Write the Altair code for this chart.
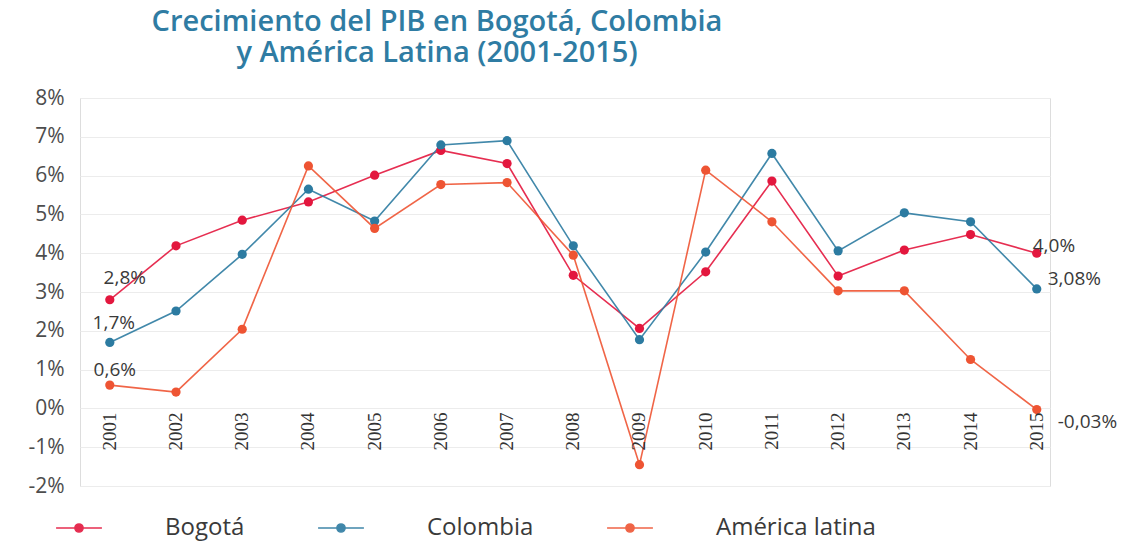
import altair as alt
import pandas as pd

# GDP growth (%) by year
years = list(range(2001, 2016))
bogota = [2.8, 4.19, 4.85, 5.32, 6.01, 6.65, 6.31, 3.43, 2.06, 3.52, 5.86, 3.41, 4.08, 4.48, 4.0]
colombia = [1.7, 2.51, 3.97, 5.65, 4.83, 6.79, 6.9, 4.19, 1.77, 4.03, 6.57, 4.06, 5.04, 4.81, 3.08]
america_latina = [0.6, 0.42, 2.04, 6.25, 4.64, 5.77, 5.82, 3.95, -1.45, 6.14, 4.81, 3.03, 3.03, 1.26, -0.03]

series_names = ["Bogotá", "Colombia", "América latina"]
series_colors = ["#e3173e", "#2c7ba1", "#ee5433"]

# end-point value labels
label_series = ["Bogotá", "Colombia", "América latina", "Bogotá", "Colombia", "América latina"]
label_years = [2001, 2001, 2001, 2015, 2015, 2015]
label_texts = ["2,8%", "1,7%", "0,6%", "4,0%", "3,08%", "-0,03%"]

y_ticks = list(range(-2, 9))

series_values = {"Bogotá": bogota, "Colombia": colombia, "América latina": america_latina}

rows = []
for name in series_names:
    for yr, v in zip(years, series_values[name]):
        rows.append({"serie": name, "year": yr, "value": v})
df = pd.DataFrame(rows)

year_df = pd.DataFrame({"year": years, "year_label": [str(y) for y in years]})

label_df = pd.DataFrame({
    "serie": label_series,
    "year": label_years,
    "text": label_texts,
    "value": [series_values[s][years.index(y)] for s, y in zip(label_series, label_years)],
})

FONT = "Open Sans"

x_scale = alt.Scale(domain=[2000.55, 2015.2], nice=False, zero=False)
y_scale = alt.Scale(domain=[-2, 8], nice=False, zero=False)
y_axis = alt.Axis(
    values=y_ticks,
    labelExpr="datum.value + '%'",
    labelOverlap=False,
    labelBound=False,
    grid=True,
    gridColor="#ececec",
    gridWidth=1,
    domain=False,
    ticks=False,
    labelPadding=16,
    labelFont=FONT,
    labelFontSize=21,
    labelColor="#4d4d4d",
    title=None,
)

x_enc = alt.X("year:Q", scale=x_scale, axis=None)
y_enc = alt.Y("value:Q", scale=y_scale, axis=y_axis)

legend_symbol = (
    "M-1,0L1,0"
    "M-0.18,0A0.18,0.18,0,1,0,0.18,0A0.18,0.18,0,1,0,-0.18,0Z"
)

color_enc = alt.Color(
    "serie:N",
    scale=alt.Scale(domain=series_names, range=series_colors),
    sort=series_names,
    legend=alt.Legend(
        title=None,
        orient="none",
        legendX=-25,
        legendY=406,
        direction="horizontal",
        symbolType=legend_symbol,
        symbolSize=2100,
        symbolStrokeWidth=1.5,
        labelFont=FONT,
        labelFontSize=24,
        labelColor="#3a3a3a",
        labelOffset=62,
        columnPadding=70,
    ),
)

base = alt.Chart(df)

lines = base.mark_line(strokeWidth=1.6, opacity=0.9).encode(
    x=x_enc, y=y_enc, color=color_enc, detail="serie:N"
)
points = base.mark_point(filled=True, size=85, opacity=1).encode(
    x=x_enc, y=y_enc, color=color_enc
)

# year labels sit just under the 0% line
years_text = alt.Chart(year_df).mark_text(
    angle=270, align="right", baseline="middle", dx=-4,
    font="Liberation Sans Narrow", fontSize=19, color="#333333",
).encode(x=x_enc, y=alt.YDatum(0, scale=y_scale, axis=y_axis), text="year_label:N")

# per-label placement around its point
label_styles = [
    dict(align="center", dx=15, dy=-22),
    dict(align="center", dx=4, dy=-19),
    dict(align="center", dx=5, dy=-15),
    dict(align="left", dx=-4, dy=-7),
    dict(align="left", dx=11, dy=-10),
    dict(align="left", dx=21, dy=12),
]
value_labels = []
for i, st in enumerate(label_styles):
    value_labels.append(
        alt.Chart(label_df.iloc[[i]]).mark_text(
            baseline="middle", font=FONT, fontSize=19, color="#3a3a3a", **st
        ).encode(x=x_enc, y=y_enc, text="text:N")
    )

chart = alt.layer(lines, points, years_text, *value_labels).properties(
    width=970,
    height=388,
    title=alt.TitleParams(
        text=["Crecimiento del PIB en Bogotá, Colombia", "y América Latina (2001-2015)"],
        font=FONT,
        fontSize=29,
        fontWeight=600,
        color="#2f7ca3",
        anchor="middle",
        align="center",
        dx=-128,
        offset=19,
        lineHeight=31,
    ),
    autosize=alt.AutoSizeParams(type="none"),
    padding={"left": 80, "top": 98, "right": 92, "bottom": 58},
).configure_view(stroke=None).configure(background="white")

chart.save("out.html", embed_options={"renderer": "svg", "actions": False})
